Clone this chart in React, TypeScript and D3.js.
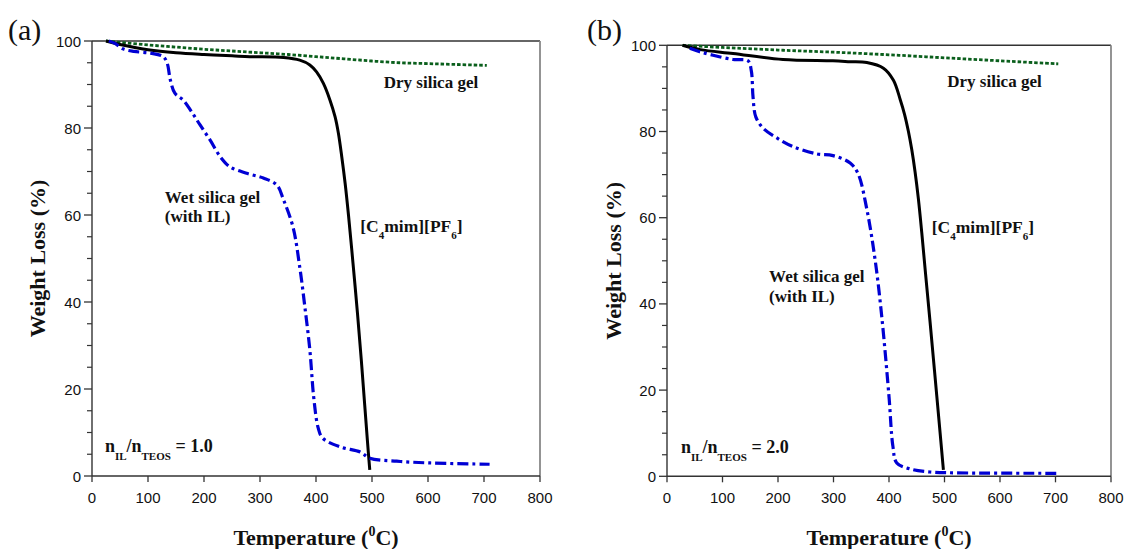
import React from "react";
import * as d3 from "d3";

// ---------- data (Temperature °C, Weight %) ----------
const xTicks = [0, 100, 200, 300, 400, 500, 600, 700, 800];
const yMajorTicks = [0, 20, 40, 60, 80, 100];
const yMinorTicks = [5, 10, 15, 25, 30, 35, 45, 50, 55, 65, 70, 75, 85, 90, 95];

const dryA: [number, number][] = [
  [25, 100], [50, 99.7], [100, 99.1], [150, 98.6], [200, 98.1], [250, 97.7], [300, 97.3],
  [350, 96.9], [400, 96.4], [450, 95.9], [500, 95.4], [550, 95.0], [600, 94.8], [650, 94.6], [705, 94.4],
];
const ilA: [number, number][] = [
  [25, 100], [50, 99.2], [100, 98.0], [150, 97.3], [200, 96.9], [250, 96.6], [282, 96.4],
  [342, 96.2], [371, 95.6], [389, 94.5], [401, 92.9], [413, 90.3], [425, 86.4], [434, 82.6],
  [440, 78.8], [446, 73.4], [452, 67.3], [458, 60], [466, 49], [474, 37.5], [481, 26.5],
  [487, 16.3], [492, 7.8], [496, 1.4],
];
const wetA: [number, number][] = [
  [30, 100], [40, 99.5], [55, 98.2], [75, 97.6], [105, 97.2], [127, 96.4], [134, 95], [140, 91],
  [148, 88], [163, 86.4], [178, 83.7], [193, 80.7], [211, 77.2], [229, 73.4], [246, 71.1],
  [276, 69.6], [306, 68.5], [330, 66.9], [342, 63.5], [359, 57.2], [371, 48], [380, 39],
  [389, 29], [396, 18], [404, 11], [412, 8.7], [443, 6.7], [479, 5.5], [496, 4.1], [544, 3.4],
  [604, 3.0], [710, 2.7],
];

const dryB: [number, number][] = [
  [28, 100], [100, 99.5], [200, 98.9], [300, 98.4], [400, 97.8], [500, 97.1], [600, 96.4], [705, 95.7],
];
const ilB: [number, number][] = [
  [28, 100], [60, 99], [119, 98.1], [209, 96.7], [299, 96.4], [330, 96.2], [360, 96.0],
  [390, 94.7], [408, 91.9], [420, 87.5], [428, 84], [435, 80], [441, 75.8], [447, 70.6],
  [453, 64.3], [459, 56.6], [466, 46.8], [474, 35.8], [480, 27.3], [486, 18.8], [492, 10.2], [498, 1.5],
];
const wetB: [number, number][] = [
  [41, 99.3], [59, 98.5], [83, 97.7], [119, 96.7], [146, 96.4], [152, 94], [155, 88], [160, 83.4],
  [173, 80.8], [198, 78.5], [227, 76.5], [270, 74.8], [299, 74.4], [330, 72.7], [344, 70.3],
  [360, 62], [375, 50.2], [387, 37], [400, 18.5], [407, 7], [414, 3.1], [438, 1.7], [474, 1.0],
  [520, 0.8], [708, 0.7],
];

const ratioA = "1.0";
const ratioB = "2.0";

type Pt = [number, number];
interface PanelProps {
  tag: string;
  left: number; right: number; top: number; bottom: number;
  dry: Pt[]; il: Pt[]; wet: Pt[];
  ratio: string;
  dryLbl: Pt; wetLbl: Pt; ilLbl: Pt; ratioLbl: Pt;
  yTitleX: number;
  tagX: number;
}

const SERIF = "'Liberation Serif', 'Times New Roman', serif";
const SANS = "'Liberation Sans', Arial, sans-serif";

function Panel(p: PanelProps) {
  const x = d3.scaleLinear().domain([0, 800]).range([p.left, p.right]);
  const y = d3.scaleLinear().domain([0, 100]).range([p.bottom, p.top]);
  const line = d3.line<Pt>().x(d => x(d[0])).y(d => y(d[1])).curve(d3.curveCatmullRom.alpha(0.5));
  const cx = (p.left + p.right) / 2;
  const cy = (p.top + p.bottom) / 2;
  const annot = { fontFamily: SERIF, fontWeight: 700, fontSize: 17, fill: "#111" } as const;
  return (
    <g>
      <text x={p.tagX} y={40} fontFamily={SERIF} fontSize={30} fill="#111">{p.tag}</text>
      {/* frame */}
      <line x1={p.left} x2={p.right} y1={p.top} y2={p.top} stroke="#333" strokeWidth={1.6} />
      <line x1={p.right} x2={p.right} y1={p.top} y2={p.bottom} stroke="#888" strokeWidth={1.8} />
      <line x1={p.left} x2={p.left} y1={p.top} y2={p.bottom} stroke="#333" strokeWidth={1.4} />
      <line x1={p.left} x2={p.right} y1={p.bottom} y2={p.bottom} stroke="#333" strokeWidth={1.4} />
      {yMajorTicks.map(t => (
        <g key={"ym" + t}>
          <line x1={p.left - 8} x2={p.left} y1={y(t)} y2={y(t)} stroke="#333" strokeWidth={1.3} />
          <text x={p.left - 11} y={y(t) + 5.5} textAnchor="end" fontFamily={SANS} fontSize={15} fill="#111">{t}</text>
        </g>
      ))}
      {yMinorTicks.map(t => (
        <line key={"yn" + t} x1={p.left - 5} x2={p.left} y1={y(t)} y2={y(t)} stroke="#333" strokeWidth={1.2} />
      ))}
      {xTicks.map(t => (
        <g key={"x" + t}>
          <line x1={x(t)} x2={x(t)} y1={p.bottom} y2={p.bottom + 6} stroke="#333" strokeWidth={1.3} />
          <text x={x(t)} y={p.bottom + 27} textAnchor="middle" fontFamily={SANS} fontSize={15} fill="#111">{t}</text>
        </g>
      ))}
      {/* axis titles */}
      <text x={cx} y={545} textAnchor="middle" fontFamily={SERIF} fontWeight={700} fontSize={22} fill="#111">
        Temperature (<tspan dy={-9} fontSize={14}>0</tspan><tspan dy={9}>C)</tspan>
      </text>
      <text transform={`translate(${p.yTitleX},${cy}) rotate(-90)`} textAnchor="middle" fontFamily={SERIF} fontWeight={700} fontSize={22} fill="#111">
        Weight Loss (%)
      </text>
      {/* curves */}
      <path d={line(p.dry) || ""} fill="none" stroke="#0a5f1c" strokeWidth={2.8} strokeDasharray="3.5,2" />
      <path d={line(p.il) || ""} fill="none" stroke="#000" strokeWidth={3} />
      <path d={line(p.wet) || ""} fill="none" stroke="#0000d4" strokeWidth={3.2} strokeDasharray="11,4,3,4" />
      {/* annotations */}
      <text x={x(p.dryLbl[0])} y={y(p.dryLbl[1])} {...annot}>Dry silica gel</text>
      <text x={x(p.wetLbl[0])} y={y(p.wetLbl[1])} {...annot}>
        <tspan x={x(p.wetLbl[0])}>Wet silica gel</tspan>
        <tspan x={x(p.wetLbl[0])} dy={19.5}>(with IL)</tspan>
      </text>
      <text x={x(p.ilLbl[0])} y={y(p.ilLbl[1])} {...annot} fontSize={17.5}>
        [C<tspan dy={7} fontSize={11}>4</tspan><tspan dy={-7}>mim][PF</tspan><tspan dy={7} fontSize={11}>6</tspan><tspan dy={-7}>]</tspan>
      </text>
      <text x={x(p.ratioLbl[0])} y={y(p.ratioLbl[1])} {...annot} fontSize={18}>
        n<tspan dy={8} fontSize={11}>IL</tspan><tspan dy={-8}>/n</tspan><tspan dy={8} fontSize={11}>TEOS</tspan><tspan dy={-8}> = {p.ratio}</tspan>
      </text>
    </g>
  );
}

export default function App() {
  return (
    <svg width={1124} height={549} style={{ position: "absolute", left: 0, top: 0, background: "#fff" }}>
      <rect width={1124} height={549} fill="#fff" />
      <Panel tag="(a)" tagX={8} left={92} right={540} top={41} bottom={476}
        dry={dryA} il={ilA} wet={wetA} ratio={ratioA}
        dryLbl={[521, 89.2]} wetLbl={[130, 62.8]} ilLbl={[479, 56.2]} ratioLbl={[23, 5.6]}
        yTitleX={45} />
      <Panel tag="(b)" tagX={587} left={667} right={1111} top={45.3} bottom={476.3}
        dry={dryB} il={ilB} wet={wetB} ratio={ratioB}
        dryLbl={[505, 90.4]} wetLbl={[184, 45.0]} ilLbl={[477, 56.4]} ratioLbl={[25, 5.5]}
        yTitleX={621} />
    </svg>
  );
}
